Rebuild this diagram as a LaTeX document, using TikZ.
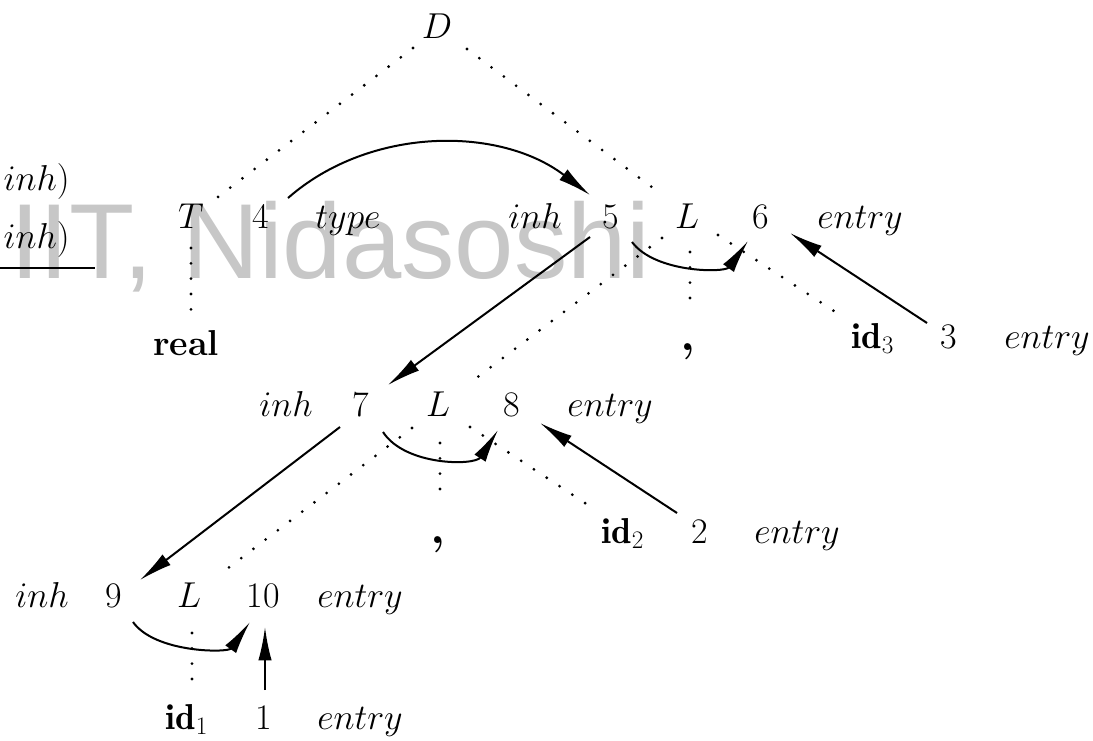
\documentclass[tikz,border=0pt]{standalone}
\usepackage{fix-cm}
\usepackage{fontspec}
\newfontfamily\wmfont{Liberation Sans}
\usetikzlibrary{arrows.meta,calc}
\tikzset{
  lbl/.style={anchor=base, inner sep=0pt, font=\fontsize{27}{32}\selectfont},
  cma/.style={anchor=base, inner sep=0pt, font=\fontsize{36}{40}\selectfont\bfseries},
  tree/.style={line width=2.3pt, line cap=round, dash pattern=on 0pt off 11.5pt},
  dep/.style={line width=1.5pt, -{Latex[length=25pt,width=10pt]}},
}
\begin{document}
\begin{tikzpicture}[x=0.75pt,y=-0.75pt]
\path[use as bounding box] (0,0) rectangle (1093,740);
% watermark
\node[anchor=base west, inner sep=0pt, text=black!22, font=\wmfont\fontsize{80}{82}\selectfont] (wm) at (10,278) {IIT, Nidasoshi};
% fragments at left edge
\node[lbl, anchor=base east] (f1) at (70,190) {$inh)$};
\node[lbl, anchor=base east] (f2) at (70,248) {$inh)$};
\coordinate (r1) at (0,268);
\coordinate (r2) at (95,268);
\draw[line width=1.4pt] (r1) -- (r2);
% labels
\node[lbl] (D) at (437,38) {$D$};
\node[lbl] (T) at (191,228) {$T$};
\node[lbl] (n4) at (261,228) {4};
\node[lbl] (type) at (348,228) {$type$};
\node[lbl] (inh5) at (535,228) {$inh$};
\node[lbl] (n5) at (611,228) {5};
\node[lbl] (L1) at (687,228) {$L$};
\node[lbl] (n6) at (761,228) {6};
\node[lbl] (e6) at (860,228) {$entry$};
\node[lbl] (real) at (186,355) {\textbf{real}};
\node[cma] (c1) at (688,350) {,};
\node[lbl] (id3) at (873,348) {$\mathbf{id}_3$};
\node[lbl] (n3) at (949,348) {3};
\node[lbl] (e3) at (1047,348) {$entry$};
\node[lbl] (inh7) at (286,416) {$inh$};
\node[lbl] (n7) at (361,416) {7};
\node[lbl] (L2) at (438,416) {$L$};
\node[lbl] (n8) at (512,416) {8};
\node[lbl] (e8) at (610,416) {$entry$};
\node[cma] (c2) at (438,543) {,};
\node[lbl] (id2) at (623,543) {$\mathbf{id}_2$};
\node[lbl] (n2) at (700,543) {2};
\node[lbl] (e2) at (797,543) {$entry$};
\node[lbl] (inh9) at (42,607) {$inh$};
\node[lbl] (n9) at (114,607) {9};
\node[lbl] (L3) at (189,607) {$L$};
\node[lbl] (n10) at (263,607) {10};
\node[lbl] (e10) at (360,607) {$entry$};
\node[lbl] (id1) at (187,729) {$\mathbf{id}_1$};
\node[lbl] (n1) at (264,729) {1};
\node[lbl] (e1) at (360,729) {$entry$};
% parse tree edges (dotted)
\draw[tree] ($(D.base)+(-24,10)$) -- ($(T.base)+(27,-31)$);
\draw[tree] ($(D.base)+(30,11)$) -- ($(L1.base)+(-30,-37)$);
\draw[tree] ($(T.base)+(0,20)$) -- ($(real.base)+(5,-32)$);
\draw[tree] ($(L1.base)+(-25,10)$) -- ($(L2.base)+(29,-31)$);
\draw[tree] ($(L1.base)+(3,24)$) -- ($(c1.base)+(2,-50)$);
\draw[tree] ($(L1.base)+(31,7)$) -- ($(id3.base)+(-36,-35)$);
\draw[tree] ($(L2.base)+(-26,12)$) -- ($(L3.base)+(34,-35)$);
\draw[tree] ($(L2.base)+(2,27)$) -- ($(c2.base)+(2,-51)$);
\draw[tree] ($(L2.base)+(32,11)$) -- ($(id2.base)+(-35,-38)$);
\draw[tree] ($(L3.base)+(3,26)$) -- ($(id1.base)+(5,-49)$);
% dependency arrows
\draw[dep] ($(n4.base)+(27,-30)$) .. controls ($(n4.base)+(109,-102)$) and ($(n5.base)+(-111,-102)$) .. ($(n5.base)+(-21,-33)$);
\draw[dep] ($(n5.base)+(-21,9)$) -- ($(n7.base)+(27,-31)$);
\draw[dep] ($(n5.base)+(21,14)$) .. controls ($(n5.base)+(44,45)$) and ($(n6.base)+(-36,45)$) .. ($(n6.base)+(-13,13)$);
\draw[dep] ($(n3.base)+(-22,-25)$) -- ($(n6.base)+(29,5)$);
\draw[dep] ($(n7.base)+(-21,11)$) -- ($(n9.base)+(26,-27)$);
\draw[dep] ($(n7.base)+(22,16)$) .. controls ($(n7.base)+(44,50)$) and ($(n8.base)+(-37,50)$) .. ($(n8.base)+(-14,14)$);
\draw[dep] ($(n2.base)+(-23,-30)$) -- ($(n8.base)+(28,7)$);
\draw[dep] ($(n9.base)+(19,15)$) .. controls ($(n9.base)+(41,46)$) and ($(n10.base)+(-35,46)$) .. ($(n10.base)+(-13,15)$);
\draw[dep] ($(n1.base)+(1,-39)$) -- ($(n10.base)+(2,20)$);
\end{tikzpicture}
\end{document}
